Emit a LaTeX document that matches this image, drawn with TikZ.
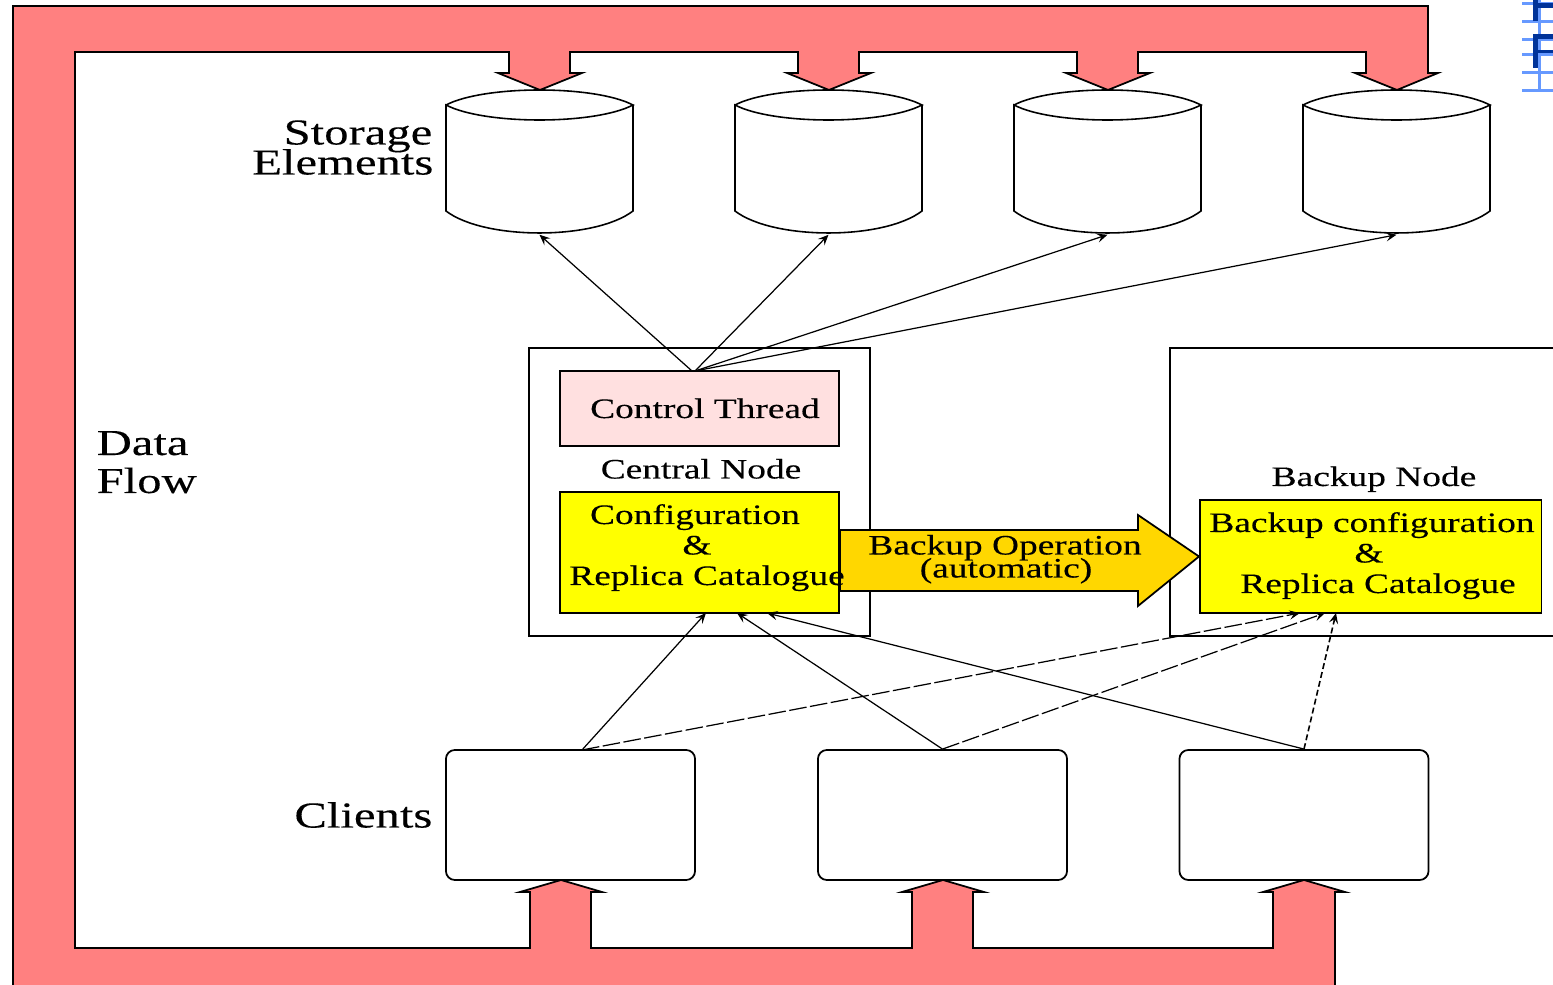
\documentclass[tikz,border=0pt]{standalone}
\usepackage{fontspec}
\setmainfont[FakeStretch=1.33,FakeBold=0.2]{Liberation Serif}
\usetikzlibrary{arrows.meta}
\begin{document}
\begin{tikzpicture}[x=0.01cm,y=-0.01cm,>={Stealth[length=3pt,width=2.6pt,inset=1.2pt]},
  box/.style={draw,line width=0.5pt,inner sep=0pt},
  bignote/.style={inner sep=0pt,font=\fontsize{10.4}{12}\selectfont},
  smallnote/.style={inner sep=0pt,anchor=base,font=\fontsize{8}{9}\selectfont},
  client/.style={box,rounded corners=0.09cm,minimum width=2.49cm,minimum height=1.3cm},
  storage/.style={inner sep=0pt,minimum width=1.87cm,minimum height=1.44cm},
  flow/.style={->,line width=0.35pt},
  backupflow/.style={->,line width=0.35pt,dash pattern=on 5pt off 1pt},
  backupflowb/.style={->,line width=0.45pt,dash pattern=on 1.7pt off 0.9pt}]
\definecolor{dataflow}{HTML}{FF8080}
\definecolor{thread}{HTML}{FFE0E0}
\definecolor{catalogue}{HTML}{FFFF00}
\definecolor{copying}{HTML}{FFD700}
\definecolor{gridblue}{HTML}{6699FF}
\definecolor{inkblue}{HTML}{003399}
\useasboundingbox (0,0) rectangle (1553,985);
\clip (0,0) rectangle (1553,985);
% data flow band
\draw[fill=dataflow,line width=0.5pt] (13,1000) -- (13,6) -- (1428,6) -- (1428,73) -- (1438,73)
  -- (1397,90) -- (1355,73) -- (1366,73) -- (1366,52) -- (1138,52) -- (1138,73) -- (1150,73)
  -- (1108,90) -- (1066,73) -- (1077,73) -- (1077,52) -- (859,52) -- (859,73) -- (871,73)
  -- (829,90) -- (787,73) -- (798,73) -- (798,52) -- (570,52) -- (570,73) -- (582,73)
  -- (540,90) -- (498,73) -- (509,73) -- (509,52) -- (75,52) -- (75,948) -- (530,948)
  -- (530,892) -- (520,892) -- (561,880) -- (602,892) -- (591,892) -- (591,948) -- (912,948)
  -- (912,892) -- (902,892) -- (943,880) -- (984,892) -- (973,892) -- (973,948) -- (1273,948)
  -- (1273,892) -- (1263,892) -- (1304,880) -- (1345,892) -- (1335,892) -- (1335,1000) -- cycle;
% storage elements
\foreach \name/\pos in {store1/539.5,store2/828.5,store3/1107.5,store4/1396.5}
{ \node[storage] (\name) at (\pos,162) {};
  \draw[line width=0.45pt] (\pos-93.5,105) .. controls (\pos-55,85) and (\pos+55,85) .. (\pos+93.5,105)
    .. controls (\pos+55,125) and (\pos-55,125) .. (\pos-93.5,105) -- (\pos-93.5,211)
    .. controls (\pos-55,240.3) and (\pos+55,240.3) .. (\pos+93.5,211) -- (\pos+93.5,105);}
\node[bignote,anchor=base east] (storagea) at (433,144.5) {Storage};
\node[bignote,anchor=base east] (storageb) at (434,174.5) {Elements};
\node[bignote,anchor=base west] (dataa) at (96,455) {Data};
\node[bignote,anchor=base west] (datab) at (96,493) {Flow};
% central and backup node
\node[box,minimum width=3.41cm,minimum height=2.88cm] (central) at (699.5,492) {};
\node[box,minimum width=4.3cm,minimum height=2.88cm] (backup) at (1385,492) {};
\node[box,fill=thread,minimum width=2.79cm,minimum height=0.75cm] (control) at (699.5,408.5) {};
\node[box,fill=catalogue,minimum width=2.79cm,minimum height=1.21cm] (config) at (699.5,552.5) {};
\node[box,fill=catalogue,minimum width=3.415cm,minimum height=1.13cm] (backupcfg) at (1370.75,556.5) {};
% backup operation
\draw[fill=copying,line width=0.5pt] (config.east |- 0,530) -- (1138,530) -- (1138,515)
  -- (backupcfg.west) -- (1138,606) -- (1138,591) -- (config.east |- 0,591) -- cycle;
\node[smallnote] (opa) at (1005,554.5) {Backup Operation};
\node[smallnote] (opb) at (1006,577.5) {(automatic)};
\node[smallnote] (controltext) at (705,418) {Control Thread};
\node[smallnote] (centraltext) at (701,478.5) {Central Node};
\node[smallnote] (cfga) at (695,524) {Configuration};
\node[smallnote] (cfgb) at (697,554.5) {\&};
\node[smallnote] (cfgc) at (707,585) {Replica Catalogue};
\node[smallnote] (backuptext) at (1374,486) {Backup Node};
\node[smallnote] (bcfga) at (1372,532) {Backup configuration};
\node[smallnote] (bcfgb) at (1369,562.5) {\&};
\node[smallnote] (bcfgc) at (1378,593) {Replica Catalogue};
% clients
\node[client] (client1) at (570.5,815) {};
\node[client] (client2) at (942.5,815) {};
\node[client] (client3) at (1304,815) {};
\node[bignote,anchor=base east] (clienttext) at (433,827.5) {Clients};
% connector ends
\coordinate (controla) at (692,371);
\coordinate (controlb) at (695,371);
\coordinate (clientout) at (582,750);
\coordinate (cfgin1) at (706,613);
\coordinate (cfgin2) at (737,613);
\coordinate (cfgin3) at (767,613);
\coordinate (bcfgin1) at (1300,613);
\coordinate (bcfgin2) at (1325,613);
\coordinate (bcfgin3) at (1336,613);
\draw[flow] (controla) -- (store1.south);
\foreach \name in {store2,store3,store4}
{ \draw[flow] (controlb) -- (\name.south);}
\draw[flow] (clientout) -- (cfgin1);
\draw[flow] (client2.north) -- (cfgin2);
\draw[flow] (client3.north) -- (cfgin3);
\draw[backupflow] (clientout) -- (bcfgin1);
\draw[backupflow] (client2.north) -- (bcfgin2);
\draw[backupflowb] (client3.north) -- (bcfgin3);
% corner fragment
\foreach \level in {4,22,40,55,73,91}
{ \fill[gridblue] (1522,\level-1.5) rectangle (1553,\level+1.5);}
\fill[gridblue] (1537.5,0) rectangle (1540.5,92);
\fill[inkblue] (1533,0) rectangle (1538,21);
\fill[inkblue] (1533,3) rectangle (1553,8);
\fill[inkblue] (1533,34) rectangle (1538,68);
\fill[inkblue] (1533,34) rectangle (1553,39);
\fill[inkblue] (1538,50) rectangle (1553,53);
\end{tikzpicture}
\end{document}
